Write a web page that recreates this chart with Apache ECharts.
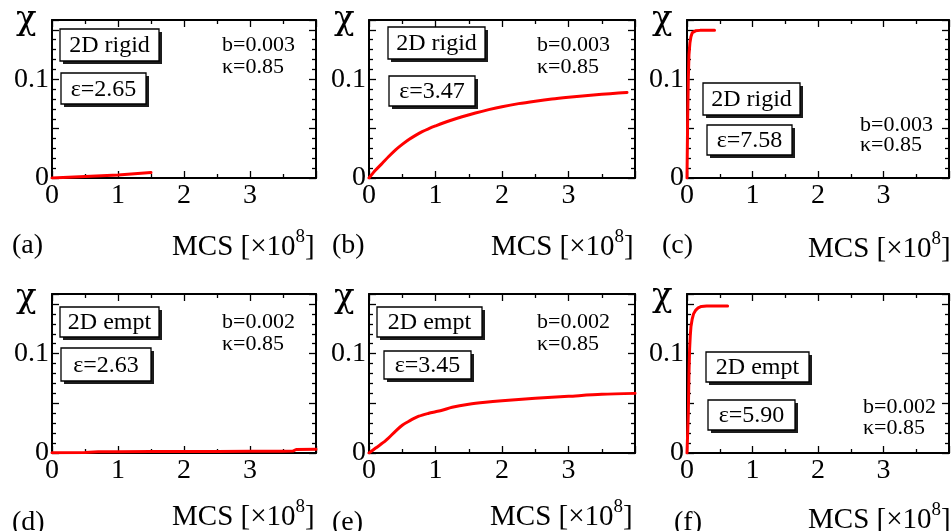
<!DOCTYPE html>
<html>
<head>
<meta charset="utf-8">
<script src="https://cdn.jsdelivr.net/npm/echarts@6/dist/echarts.min.js"></script>
<style>
  html, body { margin: 0; padding: 0; background: #fff; }
  #chart { width: 952px; height: 531px; }
</style>
</head>
<body>
<div id="chart"></div>
<script>
// Susceptibility chi versus Monte Carlo steps (units of 1e8 MCS)

// (a) 2D rigid, eps=2.65
const mcsA = [0, 0.25, 0.5, 0.75, 1.0, 1.25, 1.5];
const chiA = [0, 0.0007, 0.0015, 0.0023, 0.0031, 0.0043, 0.0055];

// (b) 2D rigid, eps=3.47
const mcsB = [0, 0.1, 0.2, 0.3, 0.4, 0.5, 0.6, 0.7, 0.8, 0.9, 1.0, 1.2, 1.4, 1.6, 1.8, 2.0, 2.25, 2.5, 2.75, 3.0, 3.25, 3.5, 3.75, 3.88];
const chiB = [0, 0.008, 0.015, 0.022, 0.0285, 0.034, 0.039, 0.0432, 0.047, 0.050, 0.0527, 0.0577, 0.0620, 0.0658, 0.0692, 0.0722, 0.0753, 0.0778, 0.0800, 0.0818, 0.0834, 0.0848, 0.0860, 0.0866];

// (c) 2D rigid, eps=7.58
const mcsC = [0, 0.005, 0.01, 0.02, 0.03, 0.045, 0.06, 0.08, 0.1, 0.13, 0.2, 0.3, 0.42];
const chiC = [0, 0.03, 0.06, 0.1, 0.125, 0.137, 0.143, 0.147, 0.1485, 0.149, 0.1495, 0.1495, 0.1495];

// (d) 2D empt, eps=2.63
const mcsD = [0, 0.5, 0.7, 1.0, 1.5, 2.0, 2.5, 3.0, 3.5, 3.65, 3.7, 4.0];
const chiD = [0.0003, 0.0006, 0.0012, 0.0013, 0.0014, 0.0016, 0.0016, 0.0017, 0.0018, 0.0019, 0.0035, 0.0038];

// (e) 2D empt, eps=3.45
const mcsE = [0, 0.1, 0.25, 0.4, 0.5, 0.6, 0.75, 0.9, 1.0, 1.1, 1.25, 1.5, 1.75, 2.0, 2.5, 3.0, 3.5, 4.0];
const chiE = [0, 0.005, 0.0124, 0.022, 0.028, 0.032, 0.037, 0.040, 0.0415, 0.043, 0.046, 0.049, 0.051, 0.0525, 0.055, 0.057, 0.059, 0.060];

// (f) 2D empt, eps=5.90
const mcsF = [0, 0.02, 0.03, 0.04, 0.05, 0.06, 0.08, 0.1, 0.13, 0.17, 0.22, 0.3, 0.4, 0.62];
const chiF = [0, 0.04, 0.08, 0.105, 0.118, 0.127, 0.135, 0.14, 0.1435, 0.146, 0.1475, 0.148, 0.148, 0.148];

const panelTags = ['(a)', '(b)', '(c)', '(d)', '(e)', '(f)'];
const modelNames = ['2D rigid', '2D rigid', '2D rigid', '2D empt', '2D empt', '2D empt'];
const epsTexts = ['ε=2.65', 'ε=3.47', 'ε=7.58', 'ε=2.63', 'ε=3.45', 'ε=5.90'];
const bTexts = ['b=0.003', 'b=0.003', 'b=0.003', 'b=0.002', 'b=0.002', 'b=0.002'];
const kappaTexts = ['κ=0.85', 'κ=0.85', 'κ=0.85', 'κ=0.85', 'κ=0.85', 'κ=0.85'];
const xTickLabels = ['0', '1', '2', '3'];
const yTickLabels = ['0', '0.1'];

const seriesX = [mcsA, mcsB, mcsC, mcsD, mcsE, mcsF];
const seriesY = [chiA, chiB, chiC, chiD, chiE, chiF];
// curve smoothing per panel (false = straight segments)
const smoothing = [false, 0.3, false, false, 0.3, false];

// layout of each panel
const cells = [
  { left: 52,  top: 20,  width: 264, height: 158 },
  { left: 369, top: 20,  width: 266, height: 158 },
  { left: 687, top: 20,  width: 263, height: 158 },
  { left: 52,  top: 294, width: 264, height: 159 },
  { left: 369, top: 294, width: 266, height: 159 },
  { left: 687, top: 294, width: 263, height: 159 }
];
const modelBoxes = [
  [60, 29, 99, 32], [388, 27, 97, 32], [703, 83, 97, 32],
  [60, 307, 99, 30], [377, 307, 105, 30], [706, 352, 103, 30]
];
const epsBoxes = [
  [61, 73, 85, 31], [389, 76, 86, 30], [707, 125, 85, 30],
  [61, 348, 90, 33], [384, 351, 87, 28], [708, 400, 87, 30]
];
const paramPos = [
  [222, 45, 67], [537, 45, 67], [860, 125, 145],
  [222, 322, 344], [537, 322, 344], [863, 407, 428]
];
const chiPos = [[16, 20], [334, 20], [652, 20], [16, 298], [334, 298], [652, 297]];
const tagPos = [[12, 246], [332, 246], [662, 246], [12, 523], [332, 523], [674, 523]];
const mcsPos = [[172, 243], [491, 243], [808, 245], [172, 513], [490, 513], [808, 516]];

const SERIF = '"Liberation Serif", "Times New Roman", serif';
const BLACK = '#000';

const xAxes = [], yAxes = [], grids = [], series = [], graphics = [];

cells.forEach((c, i) => {
  grids.push({ left: c.left, top: c.top, width: c.width, height: c.height, containLabel: false });
  const common = {
    gridIndex: i,
    axisLine: { show: true, onZero: false, lineStyle: { color: BLACK, width: 2 } },
    splitLine: { show: false }
  };
  const xBase = Object.assign({}, common, {
    type: 'value', min: 0, max: 4, interval: 1,
    axisTick: { show: true, inside: true, length: 7, lineStyle: { color: BLACK, width: 1.3 } },
    minorTick: { show: true, splitNumber: 2, length: 4, lineStyle: { color: BLACK, width: 1.3 } }
  });
  xAxes.push(Object.assign({}, xBase, {
    position: 'bottom',
    axisLabel: {
      show: true, margin: 4, color: BLACK, fontFamily: SERIF, fontSize: 28,
      formatter: v => { const s = String(Math.round(v)); return xTickLabels.includes(s) && Math.abs(v - Math.round(v)) < 1e-9 ? s : ''; }
    }
  }));
  xAxes.push(Object.assign({}, xBase, { position: 'top', axisLabel: { show: false } }));

  const yBase = Object.assign({}, common, {
    type: 'value', min: 0, max: 0.16, interval: 0.05,
    axisTick: { show: true, inside: true, length: 7, lineStyle: { color: BLACK, width: 1.3 } },
    minorTick: { show: true, splitNumber: 5, length: 4, lineStyle: { color: BLACK, width: 1.3 } }
  });
  yAxes.push(Object.assign({}, yBase, {
    position: 'left',
    axisLabel: {
      show: true, margin: 3, color: BLACK, fontFamily: SERIF, fontSize: 28,
      formatter: v => {
        if (Math.abs(v) < 1e-9) return yTickLabels[0];
        if (Math.abs(v - 0.1) < 1e-9) return yTickLabels[1];
        return '';
      }
    }
  }));
  yAxes.push(Object.assign({}, yBase, { position: 'right', axisLabel: { show: false } }));

  series.push({
    type: 'line',
    xAxisIndex: 2 * i,
    yAxisIndex: 2 * i,
    data: seriesX[i].map((x, k) => [x, seriesY[i][k]]),
    showSymbol: false,
    symbol: 'none',
    smooth: smoothing[i],
    lineStyle: { color: '#ff0000', width: 3, join: 'round', cap: 'round' },
    z: 3
  });

  // boxed labels with drop shadow
  [[modelBoxes[i], modelNames[i]], [epsBoxes[i], epsTexts[i]]].forEach(([b, txt]) => {
    graphics.push({ type: 'rect', z: 10, shape: { x: b[0] + 3, y: b[1] + 3, width: b[2], height: b[3] }, style: { fill: '#1c1c1c' } });
    graphics.push({ type: 'rect', z: 11, shape: { x: b[0], y: b[1], width: b[2], height: b[3] }, style: { fill: '#fff', stroke: BLACK, lineWidth: 1.3 } });
    graphics.push({ type: 'text', z: 12, x: b[0] + b[2] / 2, y: b[1] + b[3] / 2 + 1,
      style: { text: txt, fill: BLACK, font: '24px ' + SERIF, align: 'center', verticalAlign: 'middle' } });
  });

  const p = paramPos[i];
  graphics.push({ type: 'text', z: 12, x: p[0], y: p[1], style: { text: bTexts[i], fill: BLACK, font: '22px ' + SERIF, align: 'left', verticalAlign: 'middle' } });
  graphics.push({ type: 'text', z: 12, x: p[0], y: p[2], style: { text: kappaTexts[i], fill: BLACK, font: '22px ' + SERIF, align: 'left', verticalAlign: 'middle' } });

  graphics.push({ type: 'text', z: 12, x: chiPos[i][0], y: chiPos[i][1], style: { text: 'χ', fill: BLACK, font: '34px "DejaVu Serif", serif', align: 'left', verticalAlign: 'middle' } });
  graphics.push({ type: 'text', z: 12, x: tagPos[i][0], y: tagPos[i][1], style: { text: panelTags[i], fill: BLACK, font: '28px ' + SERIF, align: 'left', verticalAlign: 'middle' } });
  graphics.push({ type: 'text', z: 12, x: mcsPos[i][0], y: mcsPos[i][1] - 15,
    style: {
      text: '{a|MCS [×10}{s|8}{a|]}',
      fill: BLACK, align: 'left', verticalAlign: 'top',
      rich: {
        a: { fontFamily: SERIF, fontSize: 29, lineHeight: 34, verticalAlign: 'bottom', fill: BLACK },
        s: { fontFamily: SERIF, fontSize: 19, lineHeight: 34, verticalAlign: 'top', fill: BLACK }
      }
    } });
});

const chart = echarts.init(document.getElementById('chart'), null, { renderer: 'canvas' });
chart.setOption({
  animation: false,
  backgroundColor: '#fff',
  grid: grids,
  xAxis: xAxes,
  yAxis: yAxes,
  series: series,
  graphic: { elements: graphics }
});
</script>
</body>
</html>
